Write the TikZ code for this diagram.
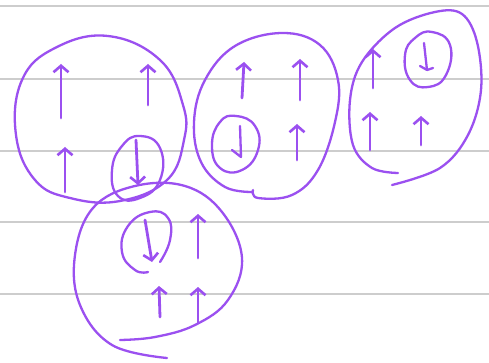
\documentclass[tikz,border=0pt]{standalone}
\usetikzlibrary{arrows.meta}
\definecolor{pen}{RGB}{155,80,240}
\definecolor{rule}{RGB}{205,205,205}
\tikzset{
  ruleline/.style={draw=rule,line width=1.8pt},
  loop/.style={draw=pen,line width=2.3pt,line cap=round,line join=round},
  spin/.style={draw=pen,line width=2.8pt,line cap=round,-{Straight Barb[length=6.5pt,width=15pt,line width=2.6pt]}},
}
\begin{document}
\begin{tikzpicture}[x=1pt,y=-1pt]
\fill[white] (0,0) rectangle (489,363);
\useasboundingbox (0,0) rectangle (489,363);
% notebook lines
\foreach \yy in {6,79,151,222,294} \draw[ruleline] (0,\yy) -- (489,\yy);

% cluster 1 (left)
\draw[loop] plot[smooth cycle,tension=0.7] coordinates {(108,36) (160,60) (183,105) (184,140) (167,180) (120,201) (70,198) (35,180) (16,135) (22,80) (55,48)};
\draw[loop] plot[smooth cycle,tension=0.8] coordinates {(140,136) (160,148) (160,180) (140,198) (118,196) (112,170) (122,146)};
\draw[spin] (61,118) -- (61,64);
\draw[spin] (148,105) -- (148,64);
\draw[spin] (65,192) -- (65,147);
\draw[spin] (136,140) -- (138,185);

% cluster 2 (bottom)
\draw[loop] plot[smooth,tension=0.65] coordinates {(167,358) (112,345) (80,305) (75,255) (93,208) (135,186) (185,186) (222,212) (242,258) (228,300) (195,325) (155,337) (120,340)};
\draw[loop] plot[smooth,tension=0.8] coordinates {(160,262) (170,240) (168,218) (150,212) (128,226) (122,252) (135,270) (148,272)};
\draw[spin] (145,220) -- (152,262);
\draw[spin] (198,258) -- (198,214);
\draw[spin] (160,317) -- (159,286);
\draw[spin] (198,323) -- (198,287);

% cluster 3 (middle)
\draw[loop] plot[smooth,tension=0.65] coordinates {(253,190) (258,198) (292,195) (318,170) (335,122) (338,80) (320,45) (282,33) (235,46) (205,80) (194,122) (201,162) (225,187) (253,192)};
\draw[loop] plot[smooth cycle,tension=0.8] coordinates {(236,116) (255,126) (258,150) (242,170) (220,168) (212,145) (220,122)};
\draw[spin] (242,98) -- (244,62);
\draw[spin] (300,100) -- (300,59);
\draw[loop] (240,126) -- (241,157) -- (232,150);
\draw[spin] (297,160) -- (297,124);

% cluster 4 (right)
\draw[loop] plot[smooth,tension=0.6] coordinates {(398,173) (372,168) (353,145) (350,100) (362,62) (395,28) (435,12) (462,14) (477,42) (481,90) (468,135) (440,168) (392,185)};
\draw[loop] plot[smooth cycle,tension=0.8] coordinates {(432,32) (450,45) (446,75) (428,87) (410,80) (405,55) (415,38)};
\draw[spin] (373,88) -- (373,49);
\draw[loop] (424,43) -- (427,70) -- (420,66);
\draw[loop] (427,70) -- (433,68);
\draw[spin] (370,150) -- (370,112);
\draw[spin] (421,145) -- (421,116);
\end{tikzpicture}
\end{document}
